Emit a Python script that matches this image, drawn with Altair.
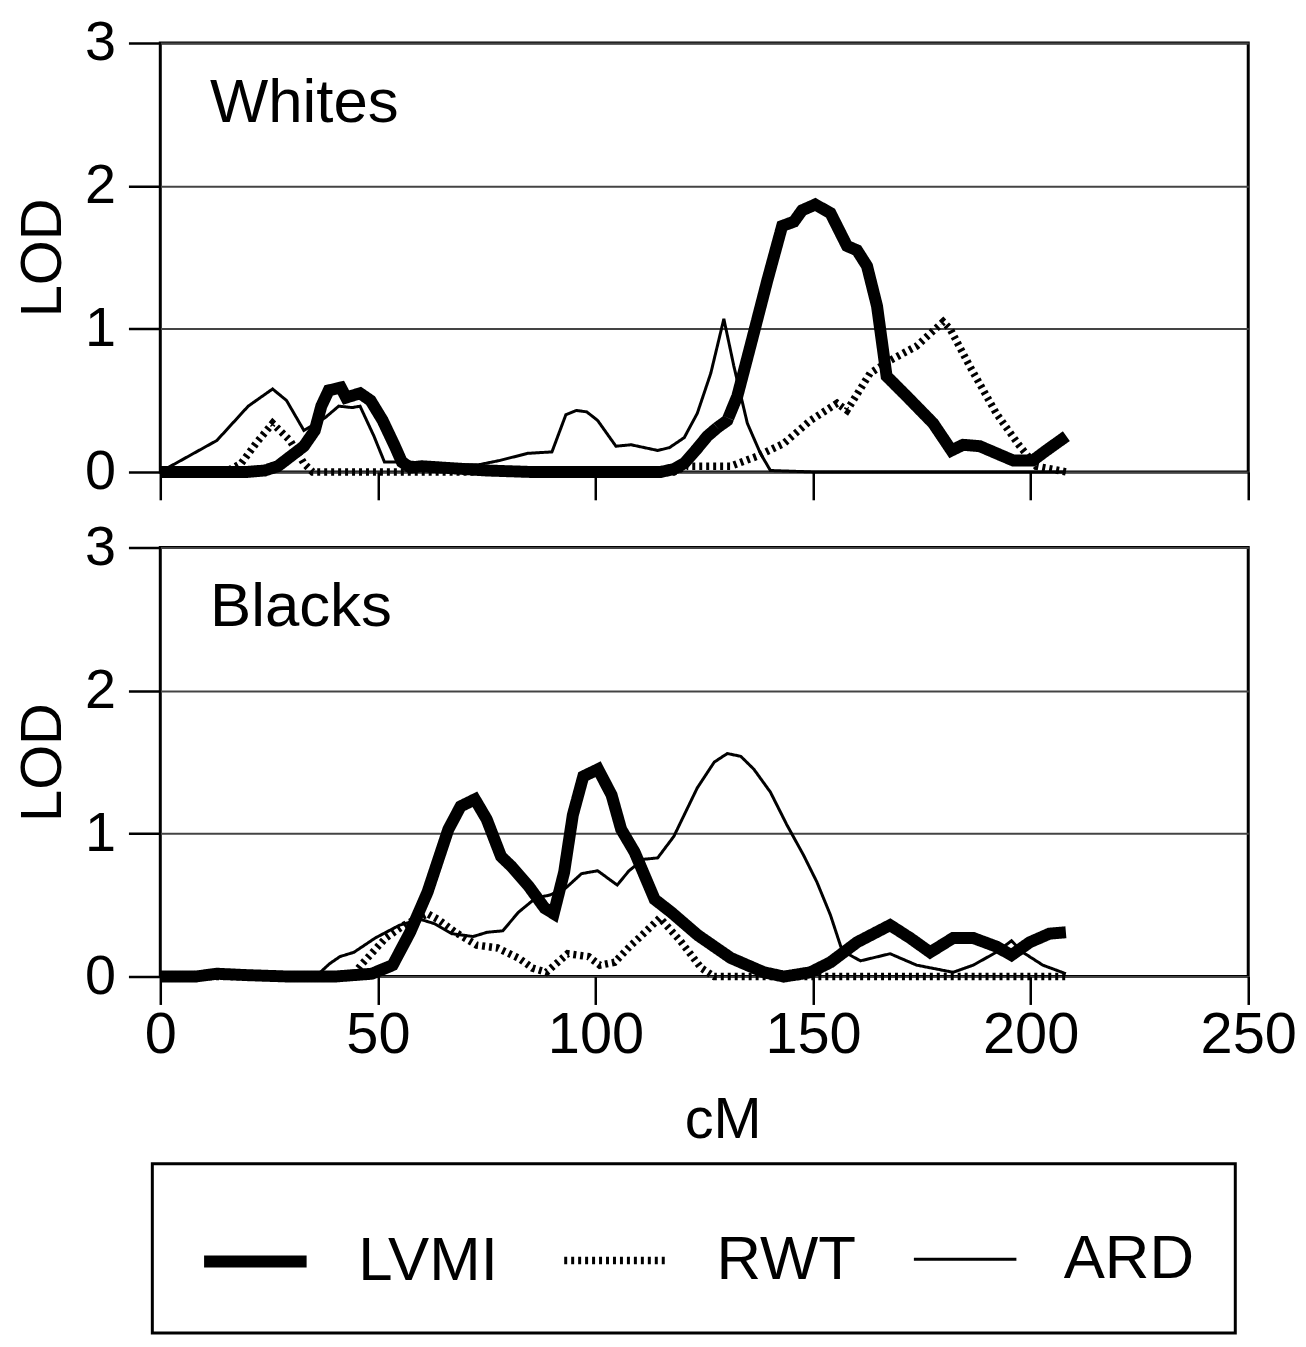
import altair as alt
import pandas as pd

FONT = "Liberation Sans"

SERIES = ["LVMI", "RWT", "ARD"]
PANELS = ["Whites", "Blacks"]
CM_TICKS = [0, 50, 100, 150, 200, 250]
LOD_TICKS = [0, 1, 2, 3]

# ---- Whites ----
W_LVMI_CM = [0, 10, 20, 24, 27, 30, 33, 35.5, 37, 38.7, 41.5, 42.7, 45.9, 48.3, 51.1, 53.9, 55.5, 57.5, 60, 65,
             75, 85, 95, 105, 115, 118, 120.4, 123, 125.7, 128, 130.3, 132.6, 135.6, 139.5, 142.9, 145.6, 147.5,
             150.5, 154, 157.8, 160.1, 162.4, 164.7, 166.9, 171.5, 177.6, 181.8, 184.5, 188.3, 196, 200.5, 203.6, 208.2]
W_LVMI_LOD = [0, 0, 0, 0.01, 0.04, 0.11, 0.18, 0.29, 0.46, 0.57, 0.59, 0.52, 0.55, 0.50, 0.36, 0.18, 0.07, 0.03, 0.04, 0.03,
              0.01, 0, 0, 0, 0, 0.02, 0.06, 0.15, 0.25, 0.31, 0.36, 0.53, 0.88, 1.34, 1.72, 1.75, 1.83,
              1.87, 1.81, 1.58, 1.55, 1.44, 1.16, 0.67, 0.53, 0.34, 0.15, 0.19, 0.18, 0.08, 0.08, 0.15, 0.25]

W_RWT_CM = [0, 15, 18.6, 22, 25.8, 29.8, 33, 35, 60, 90, 118, 121, 131, 137.2, 143.3, 149.4, 155.5, 157.8,
            163.1, 167.7, 173.8, 179.9, 181.5, 186, 192.1, 197.5, 201.3, 208.2]
W_RWT_LOD = [0, 0, 0.06, 0.2, 0.34, 0.22, 0.06, 0, 0, 0, 0, 0.04, 0.04, 0.11, 0.2, 0.36, 0.48, 0.43,
             0.69, 0.78, 0.88, 1.05, 1.0, 0.74, 0.41, 0.18, 0.04, 0]

W_ARD_CM = [0, 13, 20.2, 25.8, 29, 33, 37.9, 41, 44.1, 45.9, 49.1, 51.5, 56.3, 68.3, 73.1, 78, 84.4, 90, 93.2,
            95.6, 98, 100.5, 104.7, 108.2, 114.3, 117, 120.4, 123.4, 126.5, 129.5, 131.8, 134.9, 137.9, 140.2, 150, 208]
W_ARD_LOD = [0, 0.22, 0.46, 0.58, 0.50, 0.29, 0.38, 0.46, 0.45, 0.46, 0.25, 0.07, 0.07, 0.05, 0.05, 0.08, 0.13, 0.14, 0.40,
             0.43, 0.42, 0.36, 0.18, 0.19, 0.15, 0.17, 0.24, 0.41, 0.69, 1.07, 0.74, 0.34, 0.13, 0.01, 0, 0]

# ---- Blacks ----
B_LVMI_CM = [0, 8, 13, 20, 30, 40, 48.6, 53.4, 57.4, 61.4, 66.2, 69, 72.3, 75, 78.3, 80.7, 84.7, 88.3, 90.4, 92.8,
             94.8, 97.2, 100.6, 103.7, 105.9, 109, 113.6, 117.4, 123.5, 131.1, 138.7, 143.3, 149.4, 154, 160.1,
             167.7, 172.3, 176.9, 182.2, 186.8, 192.1, 195.6, 199.8, 204.3, 208.1]
B_LVMI_LOD = [0, 0, 0.02, 0.01, 0, 0, 0.02, 0.08, 0.31, 0.59, 1.03, 1.19, 1.24, 1.1, 0.84, 0.77, 0.63, 0.48, 0.44, 0.73,
              1.13, 1.40, 1.45, 1.27, 1.03, 0.87, 0.54, 0.45, 0.29, 0.13, 0.03, 0, 0.03, 0.1, 0.24,
              0.36, 0.27, 0.17, 0.27, 0.27, 0.21, 0.15, 0.24, 0.3, 0.31]

B_RWT_CM = [0, 44, 46.1, 51.8, 56, 61.4, 63.8, 67.8, 72.7, 77.5, 82.3, 85.5, 88.7, 93.6, 98.4, 101, 104.4,
            108.2, 110, 114.8, 119.5, 124.3, 127.3, 208]
B_RWT_LOD = [0, 0, 0.08, 0.27, 0.36, 0.44, 0.40, 0.31, 0.22, 0.20, 0.13, 0.06, 0.03, 0.16, 0.14, 0.08, 0.10,
             0.22, 0.27, 0.41, 0.25, 0.06, 0, 0]

B_ARD_CM = [0, 35.7, 38.9, 41.3, 44.5, 49.4, 55, 59.8, 63, 67, 71.9, 75.1, 78.7, 82.3, 86.3, 89.5, 93.2, 96.8,
            100.5, 105, 107.7, 111, 114.3, 118, 123.4, 127.3, 130.3, 133.4, 136.4, 140.2, 144, 147.8, 150.9, 154,
            156.7, 160.9, 167.7, 173.8, 182.2, 186.8, 192.1, 195.6, 198.2, 202.8, 208.1]
B_ARD_LOD = [0, 0, 0.09, 0.14, 0.17, 0.27, 0.36, 0.40, 0.37, 0.30, 0.28, 0.31, 0.32, 0.45, 0.55, 0.57, 0.62, 0.72,
             0.74, 0.64, 0.74, 0.82, 0.83, 0.98, 1.32, 1.5, 1.56, 1.54, 1.45, 1.29, 1.06, 0.85, 0.66, 0.43,
             0.18, 0.11, 0.16, 0.08, 0.03, 0.08, 0.17, 0.25, 0.17, 0.08, 0.02]


def long_table(parts):
    rows = []
    for name, cms, lods in parts:
        for c, v in zip(cms, lods):
            rows.append({"series": name, "cM": c, "LOD": v})
    return pd.DataFrame(rows)


df_w = long_table([("LVMI", W_LVMI_CM, W_LVMI_LOD), ("RWT", W_RWT_CM, W_RWT_LOD), ("ARD", W_ARD_CM, W_ARD_LOD)])
df_b = long_table([("LVMI", B_LVMI_CM, B_LVMI_LOD), ("RWT", B_RWT_CM, B_RWT_LOD), ("ARD", B_ARD_CM, B_ARD_LOD)])

legend = alt.Legend(
    title=None, orient="none", legendX=-8, legendY=1126, direction="horizontal",
    symbolType="stroke", symbolSize=10609, symbolStrokeColor="black", symbolOffset=5.5,
    labelFont=FONT, labelFontSize=62, labelColor="black", labelOffset=46, labelLimit=400,
    columnPadding=50.8, padding=40.5, strokeColor="black", fillColor="white",
)


def panel(df, label, bottom):
    if bottom:
        x_axis = alt.Axis(values=CM_TICKS, domain=False, grid=False, tickSize=28, labelFontSize=58,
                          labelPadding=2, titleFontSize=58, titleX=565, titleY=162, titleBaseline="alphabetic",
                          labelFlush=False)
        x_title = "cM"
    else:
        x_axis = alt.Axis(values=CM_TICKS, domain=False, grid=False, tickSize=28, labels=False)
        x_title = ""
    y_axis = alt.Axis(values=LOD_TICKS, domain=False, grid=True, tickSize=32, labelFontSize=56,
                      labelPadding=13, titleFontSize=58, titlePadding=12, labelFlush=False)
    lines = alt.Chart(df).mark_line(color="black", strokeJoin="miter", strokeCap="butt").encode(
        x=alt.X("cM:Q", scale=alt.Scale(domain=[0, 250], nice=False), axis=x_axis, title=x_title),
        y=alt.Y("LOD:Q", scale=alt.Scale(domain=[0, 3], nice=False), axis=y_axis, title="LOD"),
        strokeDash=alt.StrokeDash("series:N", scale=alt.Scale(domain=SERIES, range=[[1, 0], [3, 4], [1, 0]]),
                                  legend=legend),
        strokeWidth=alt.StrokeWidth("series:N", scale=alt.Scale(type="point", domain=SERIES, range=[12, 3], padding=0),
                                    legend=legend),
    )
    txt = alt.Chart(pd.DataFrame({"t": [label]})).mark_text(
        align="left", baseline="alphabetic", font=FONT, fontSize=62, color="black"
    ).encode(x=alt.value(50), y=alt.value(79), text="t:N")
    return alt.layer(lines, txt).properties(width=1093, height=431)


chart = alt.vconcat(
    panel(df_w, PANELS[0], False), panel(df_b, PANELS[1], True), spacing=76, bounds="flush"
).properties(
    padding={"left": 5, "top": 2, "right": 0, "bottom": 0}
).configure_view(
    stroke="black", strokeWidth=3
).configure_axis(
    labelFont=FONT, titleFont=FONT, labelColor="black", titleColor="black", titleFontWeight="normal",
    gridColor="#444444", gridWidth=2, tickColor="black", tickWidth=2.5
).configure_legend(
    strokeWidth=3
)

chart.save("out.html", embed_options={"renderer": "svg", "actions": False})
